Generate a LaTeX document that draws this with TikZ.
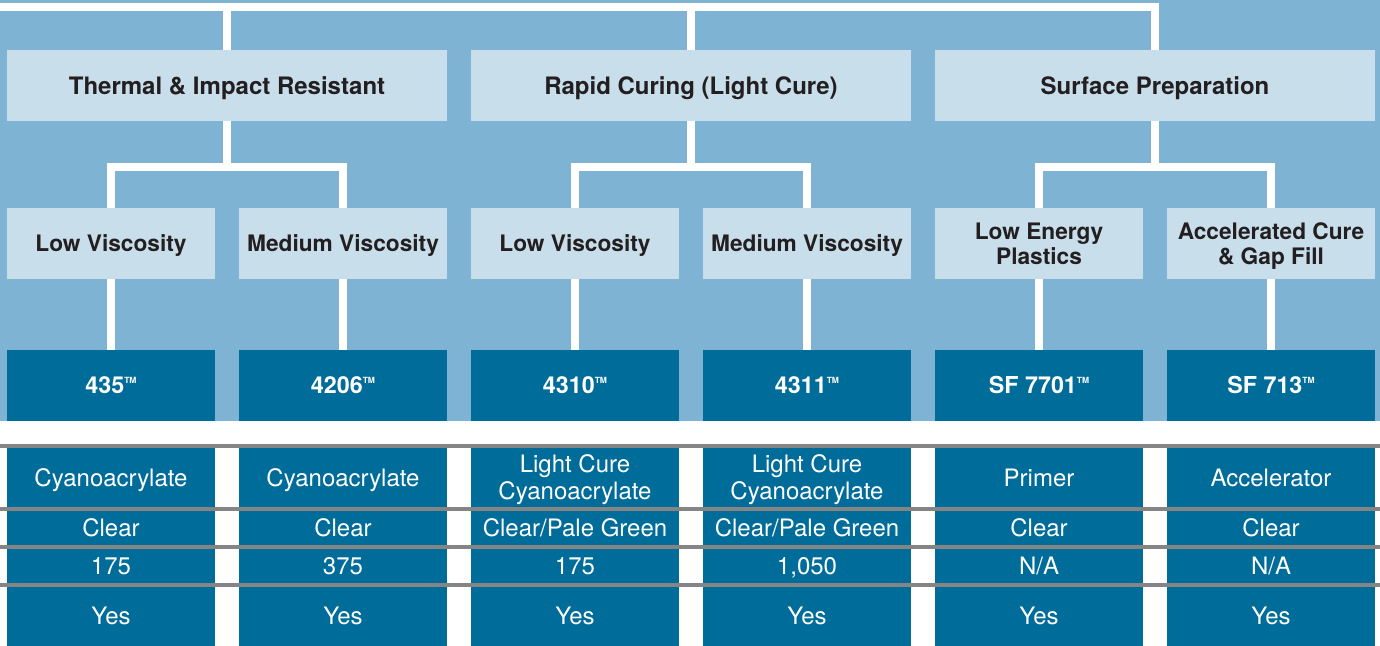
\documentclass[tikz,border=0pt]{standalone}
\usepackage{fontspec}
\setmainfont{TeX Gyre Heros}
\usepackage{tikz}

\definecolor{skyback}{RGB}{127,179,211}
\definecolor{paleblue}{RGB}{200,222,235}
\definecolor{deepblue}{RGB}{0,108,153}
\definecolor{inkdark}{RGB}{35,31,32}
\definecolor{rulegray}{RGB}{133,133,133}

\newcommand{\tmark}{\raisebox{10.6pt}{\fontsize{8.5}{8.5}\selectfont TM}}

\tikzset{
  catbox/.style={fill=paleblue,text=inkdark,inner sep=0pt,outer sep=0pt,align=center,
    font=\bfseries\fontsize{24}{26}\selectfont,minimum width=440pt,minimum height=71pt,
    text height=17.2pt,text depth=0pt},
  subbox/.style={catbox,minimum width=208pt,font=\bfseries\fontsize{22.7}{24.7}\selectfont,
    text height=16.3pt},
  subboxtwo/.style={subbox,text height=41pt},
  prodbox/.style={fill=deepblue,text=white,inner sep=0pt,outer sep=0pt,
    font=\bfseries\fontsize{23.3}{26}\selectfont,minimum width=208pt,minimum height=71pt,
    text height=16.7pt,text depth=0pt},
  cellbox/.style={fill=deepblue,text=white,inner sep=0pt,outer sep=0pt,align=center,
    font=\fontsize{24}{26.6}\selectfont,minimum width=208pt,
    text height=17.2pt,text depth=0pt},
  cellone/.style={cellbox,minimum height=63pt},
  celltwo/.style={cellone,text height=43.8pt},
  cellmid/.style={cellbox,minimum height=38pt},
  celllast/.style={cellbox,minimum height=62pt},
  link/.style={draw=white,line width=7.7pt},
  rowrule/.style={draw=rulegray,line width=3.7pt}
}

\begin{document}
\begin{tikzpicture}[x=1pt,y=-1pt]
\path[use as bounding box] (0,0) rectangle (1380,645);
\path[fill=white] (0,0) rectangle (1380,645);
\path[fill=skyback] (0,0) rectangle (1380,421);

\node[catbox] (cat1) at (227,85.5) {Thermal \& Impact Resistant};
\node[catbox] (cat2) at (691,85.5) {Rapid Curing (Light Cure)};
\node[catbox] (cat3) at (1155,85.5) {Surface Preparation};

\node[subbox] (sub11) at (111,243.5) {Low Viscosity};
\node[subbox] (sub12) at (343,243.5) {Medium Viscosity};
\node[subbox] (sub21) at (575,243.5) {Low Viscosity};
\node[subbox] (sub22) at (807,243.5) {Medium Viscosity};
\node[subboxtwo] (sub31) at (1039,243.5) {Low Energy\\Plastics};
\node[subboxtwo] (sub32) at (1271,243.5) {Accelerated Cure\\\& Gap Fill};

\node[prodbox] (prod11) at (111,385.5) {435\tmark};
\node[prodbox] (prod12) at (343,385.5) {4206\tmark};
\node[prodbox] (prod21) at (575,385.5) {4310\tmark};
\node[prodbox] (prod22) at (807,385.5) {4311\tmark};
\node[prodbox] (prod31) at (1039,385.5) {SF 7701\tmark};
\node[prodbox] (prod32) at (1271,385.5) {SF 713\tmark};

\coordinate (topL) at (0,7.2);
\draw[link] (topL) -| (cat3.north);
\draw[link] (cat1.north) -- (cat1.north |- topL);
\draw[link] (cat2.north) -- (cat2.north |- topL);

\path (cat1.south) ++(0,46.2) coordinate (fork1);
\path (cat2.south) ++(0,46.2) coordinate (fork2);
\path (cat3.south) ++(0,46.2) coordinate (fork3);
\draw[link] (cat1.south) -- (fork1);
\draw[link] (cat2.south) -- (fork2);
\draw[link] (cat3.south) -- (fork3);
\draw[link] (sub11.north) |- (fork1) -| (sub12.north);
\draw[link] (sub21.north) |- (fork2) -| (sub22.north);
\draw[link] (sub31.north) |- (fork3) -| (sub32.north);

\draw[link] (sub11.south) -- (prod11.north);
\draw[link] (sub12.south) -- (prod12.north);
\draw[link] (sub21.south) -- (prod21.north);
\draw[link] (sub22.south) -- (prod22.north);
\draw[link] (sub31.south) -- (prod31.north);
\draw[link] (sub32.south) -- (prod32.north);

\node[cellone] (type11) at (111,477.5) {Cyanoacrylate};
\node[cellone] (type12) at (343,477.5) {Cyanoacrylate};
\node[celltwo] (type21) at (575,477.5) {Light Cure\\Cyanoacrylate};
\node[celltwo] (type22) at (807,477.5) {Light Cure\\Cyanoacrylate};
\node[cellone] (type31) at (1039,477.5) {Primer};
\node[cellone] (type32) at (1271,477.5) {Accelerator};

\node[cellmid] (look11) at (111,528) {Clear};
\node[cellmid] (look12) at (343,528) {Clear};
\node[cellmid] (look21) at (575,528) {Clear/Pale Green};
\node[cellmid] (look22) at (807,528) {Clear/Pale Green};
\node[cellmid] (look31) at (1039,528) {Clear};
\node[cellmid] (look32) at (1271,528) {Clear};

\node[cellmid] (visc11) at (111,566) {175};
\node[cellmid] (visc12) at (343,566) {375};
\node[cellmid] (visc21) at (575,566) {175};
\node[cellmid] (visc22) at (807,566) {1,050};
\node[cellmid] (visc31) at (1039,566) {N/A};
\node[cellmid] (visc32) at (1271,566) {N/A};

\node[celllast] (fast11) at (111,616) {Yes};
\node[celllast] (fast12) at (343,616) {Yes};
\node[celllast] (fast21) at (575,616) {Yes};
\node[celllast] (fast22) at (807,616) {Yes};
\node[celllast] (fast31) at (1039,616) {Yes};
\node[celllast] (fast32) at (1271,616) {Yes};

\draw[rowrule,line width=3.4pt] (0,446) -- (1380,446);
\draw[rowrule] (0,509.2) -- (1380,509.2);
\draw[rowrule] (0,547) -- (1380,547);
\draw[rowrule] (0,584.7) -- (1380,584.7);
\end{tikzpicture}
\end{document}
